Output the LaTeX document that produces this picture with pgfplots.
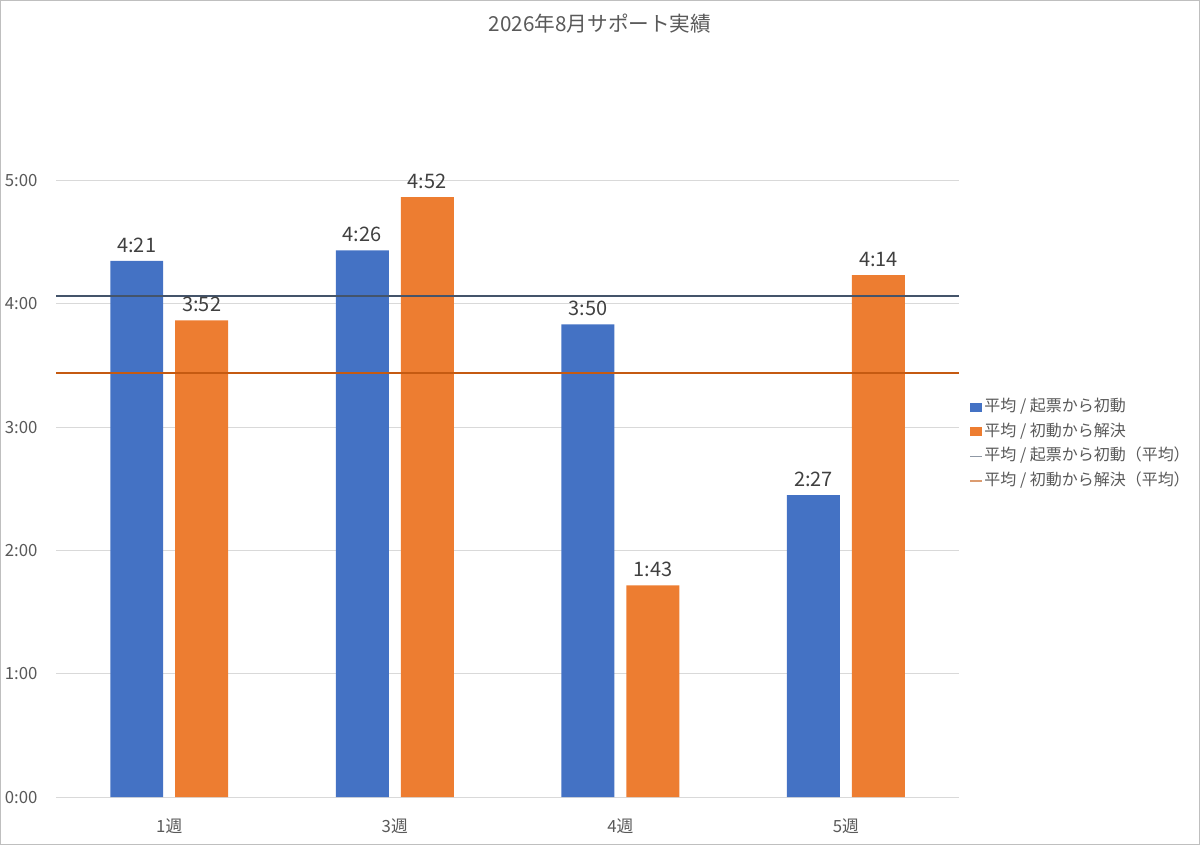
\documentclass[border=0pt]{standalone}
\usepackage{pgfplots}
\pgfplotsset{compat=1.18}
\usepackage{pgfplotstable}
\usepackage{fontspec}
\setmainfont{Noto Sans CJK JP}
\definecolor{cblue}{HTML}{4472C4}
\definecolor{corange}{HTML}{ED7D31}
\definecolor{cavgblue}{HTML}{44546A}
\definecolor{cavgorange}{HTML}{C55A11}
\definecolor{ctext}{HTML}{595959}
\definecolor{clabel}{HTML}{404040}
\definecolor{cgrid}{HTML}{D9D9D9}
\definecolor{cborder}{HTML}{BFBFBF}

\pgfplotstableread{
x y lab
0 4.3500 4:21
1 4.4333 4:26
2 3.8333 3:50
3 2.4500 2:27
}\bluedata
\pgfplotstableread{
x y lab
0 3.8667 3:52
1 4.8667 4:52
2 1.7167 1:43
3 4.2333 4:14
}\orangedata
\pgfplotstableread{
x y
-0.5 4.068
3.5 4.068
}\blueavg
\pgfplotstableread{
x y
-0.5 3.441
3.5 3.441
}\orangeavg

\begin{document}
\begin{tikzpicture}
\draw[cborder, line width=0.75pt] (0,0) rectangle (900pt,633.75pt);
\node[text=ctext, font=\fontsize{15.5}{18}\selectfont] at (450pt,616.5pt) {2026年8月サポート実績};
\begin{axis}[
  at={(42pt,35.8pt)}, anchor=south west,
  scale only axis,
  width=677.25pt, height=462.75pt,
  xmin=-0.5, xmax=3.5, ymin=0, ymax=5,
  clip=false,
  axis x line*=bottom, axis y line*=left,
  axis line style={draw=none},
  tick style={draw=none},
  ymajorgrids, grid style={cgrid, line width=0.75pt},
  xtick={0,1,2,3},
  xticklabels={1週,3週,4週,5週},
  ytick={0,1,2,3,4,5},
  yticklabels={0:00,1:00,2:00,3:00,4:00,5:00},
  tick label style={text=ctext, font=\fontsize{12.6}{15}\selectfont},
  y tick label style={anchor=east, inner sep=0pt, xshift=-14pt},
  x tick label style={anchor=center, inner sep=0pt, yshift=-22pt},
  legend style={at={(axis description cs:1.012,0.5726)}, anchor=west,
    draw=none, fill=none, font=\fontsize{12}{14}\selectfont, text=ctext,
    row sep=6pt, inner sep=0pt,
    nodes={inner sep=1pt, text height=8.5pt, text depth=2pt}},
  legend cell align=left,
]
\addplot[ybar, bar width=0.2348, bar shift=-0.144, fill=cblue, draw=none,
  nodes near coords, point meta=explicit symbolic,
  every node near coord/.style={font=\fontsize{15}{18}\selectfont, text=clabel, anchor=south, inner sep=3pt, xshift=-24.4pt, yshift=3pt},
  legend image code/.code={\fill[cblue] (0pt,-3.4pt) rectangle (9pt,3.4pt);}]
  table[x=x, y=y, meta=lab] {\bluedata};
\addlegendentry{平均 / 起票から初動}
\addplot[ybar, bar width=0.2348, bar shift=0.144, fill=corange, draw=none,
  nodes near coords, point meta=explicit symbolic,
  every node near coord/.style={font=\fontsize{15}{18}\selectfont, text=clabel, anchor=south, inner sep=3pt, xshift=24.4pt, yshift=3pt},
  legend image code/.code={\fill[corange] (0pt,-3.4pt) rectangle (9pt,3.4pt);}]
  table[x=x, y=y, meta=lab] {\orangedata};
\addlegendentry{平均 / 初動から解決}
\addplot[cavgblue, line width=1.5pt, no marks,
  legend image code/.code={\draw[cavgblue!60, line width=1pt] (0pt,0pt) -- (9pt,0pt);}]
  table[x=x, y=y] {\blueavg};
\addlegendentry{平均 / 起票から初動（平均）}
\addplot[cavgorange, line width=1.2pt, no marks,
  legend image code/.code={\draw[cavgorange!60, line width=1pt] (0pt,0pt) -- (9pt,0pt);}]
  table[x=x, y=y] {\orangeavg};
\addlegendentry{平均 / 初動から解決（平均）}
\end{axis}
\end{tikzpicture}
\end{document}
